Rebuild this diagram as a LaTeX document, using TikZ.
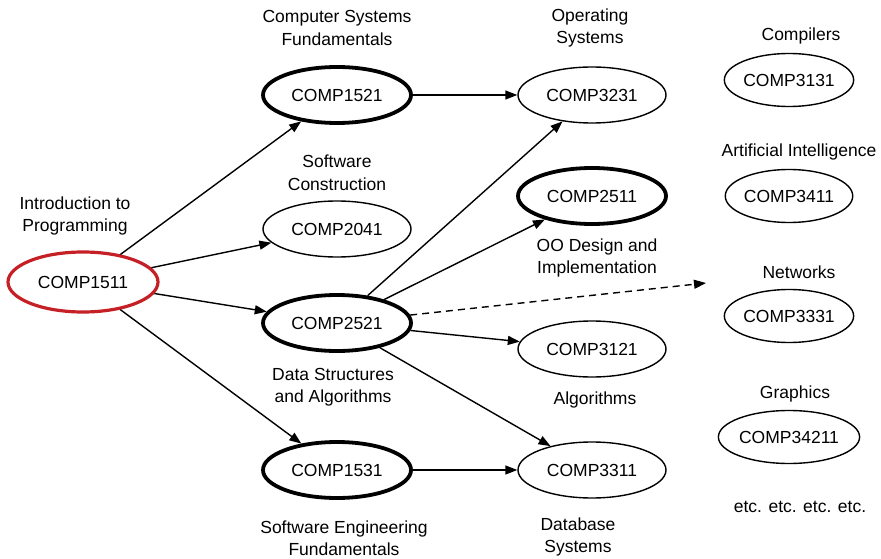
\documentclass[tikz,border=0pt]{standalone}
\usepackage{fontspec}
\setmainfont{Liberation Sans}
\usetikzlibrary{shapes.geometric,arrows.meta}
\definecolor{introred}{RGB}{196,32,38}
\begin{document}
\begin{tikzpicture}[x=1pt,y=-1pt,
  font=\fontsize{17.5}{22.5}\selectfont,
  course/.style={ellipse,draw,line width=1.4pt,inner sep=0pt,minimum width=148pt,minimum height=56pt},
  core/.style={course,line width=3.8pt},
  first/.style={course,line width=3.2pt,draw=introred,minimum width=150pt,minimum height=60pt},
  elective/.style={course,minimum width=127pt,minimum height=53pt},
  caption/.style={align=center,inner sep=0pt},
  link/.style={line width=1.4pt,-{Triangle[length=12pt,width=9pt]}},
  maybe/.style={link,dash pattern=on 7pt off 5pt}]
\useasboundingbox (0,0) rectangle (881,559);

% courses
\node[first]    (c1511) at (83,282)  {COMP1511};
\node[core]     (c1521) at (337,95)  {COMP1521};
\node[course]   (c2041) at (337,229) {COMP2041};
\node[core]     (c2521) at (337,323) {COMP2521};
\node[core]     (c1531) at (337,470) {COMP1531};
\node[course]   (c3231) at (592,95)  {COMP3231};
\node[core]     (c2511) at (592,196) {COMP2511};
\node[course]   (c3121) at (592,349) {COMP3121};
\node[course]   (c3311) at (592,470) {COMP3311};
\node[elective] (c3131) at (789,80)  {COMP3131};
\node[elective] (c3411) at (789,196) {COMP3411};
\node[elective] (c3331) at (789,316) {COMP3331};
\node[elective] (c34211) at (789,437) {COMP34211};

% course titles
\node[caption] (t1511) at (75,216)  {Introduction to\\Programming};
\node[caption] (t1521) at (337,28)  {Computer Systems\\Fundamentals};
\node[caption] (t2041) at (337,173) {Software\\Construction};
\node[caption] (t2521) at (333,387) {Data Structures\\and Algorithms};
\node[caption] (t1531) at (344,538) {Software Engineering\\Fundamentals};
\node[caption] (t3231) at (590,28)  {Operating\\Systems};
\node[caption] (t2511) at (597,258) {OO Design and\\Implementation};
\node[caption] (t3121) at (595,400) {Algorithms};
\node[caption] (t3311) at (578,537) {Database\\Systems};
\node[caption] (t3131) at (801,36)  {Compilers};
\node[caption] (t3411) at (799,152) {Artificial Intelligence};
\node[caption] (t3331) at (799,272) {Networks};
\node[caption] (t34211) at (795,394) {Graphics};
\node[caption] (etc)   at (800,507) {etc. etc. etc. etc.};

% prerequisites
\draw[link] (c1511) -- (c1521);
\draw[link] (c1511) -- (c2041);
\draw[link] (c1511) -- (c2521);
\draw[link] (c1511) -- (c1531);
\draw[link] (c1521) -- (c3231);
\draw[link] (c2521) -- (c3231);
\draw[link] (c2521) -- (c2511);
\draw[link] (c2521) -- (c3121);
\draw[link] (c2521) -- (c3311);
\draw[link] (c1531) -- (c3311);
\coordinate (more) at (706,283);
\draw[maybe] (c2521) -- (more);
\end{tikzpicture}
\end{document}
